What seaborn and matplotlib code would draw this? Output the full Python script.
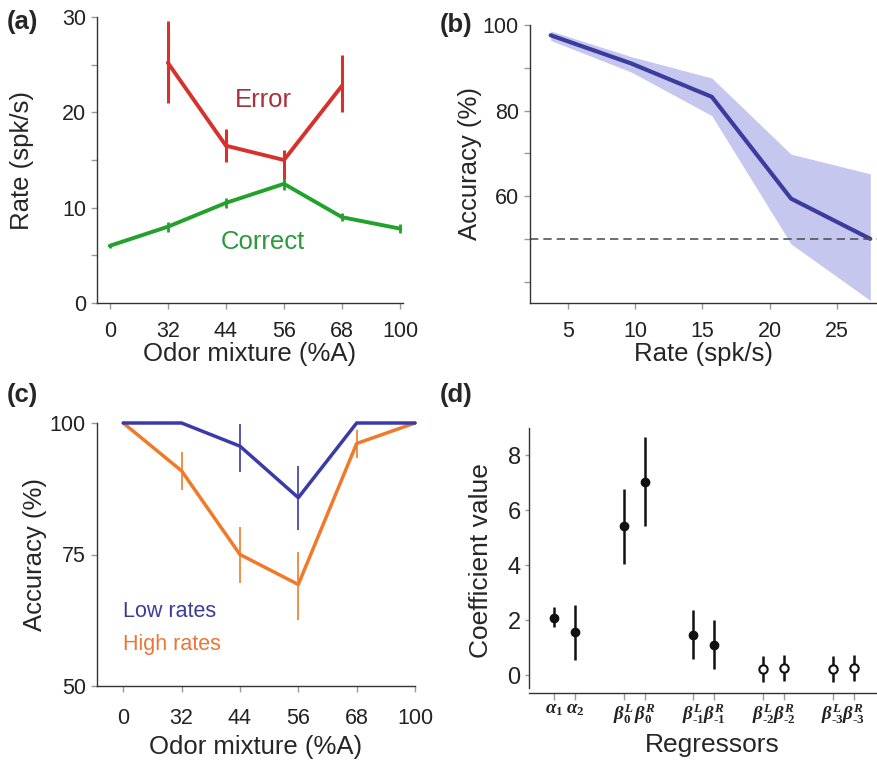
import numpy as np
import pandas as pd
import matplotlib
matplotlib.use("Agg")
import matplotlib.pyplot as plt
import seaborn as sns

# ---------------- data ----------------
# (a)
odor_labels = ["0", "32", "44", "56", "68", "100"]
correct_rate = [6.0, 8.0, 10.5, 12.5, 9.0, 7.8]
correct_lo = [5.8, 7.5, 10.0, 11.9, 8.6, 7.3]
correct_hi = [6.2, 8.5, 11.0, 13.1, 9.4, 8.3]
error_labels = ["32", "44", "56", "68"]
error_rate = [25.2, 16.5, 15.0, 22.8]
error_lo = [21.0, 14.8, 13.0, 20.0]
error_hi = [29.6, 18.2, 16.0, 26.0]

# (b)
rate_x = [3.7, 9.7, 15.7, 21.6, 27.5]
acc_mean = [97.6, 91.0, 83.2, 59.4, 50.0]
acc_lo = [96.4, 89.0, 78.8, 48.8, 35.6]
acc_hi = [98.6, 92.6, 87.6, 69.8, 65.2]
chance = 50

# (c)
low_acc = [100, 100, 95.6, 85.8, 100, 100]
low_lo = [100, 100, 90.7, 79.7, 100, 100]
low_hi = [100, 100, 99.8, 91.8, 100, 100]
high_acc = [100, 90.9, 75.0, 69.3, 96.1, 100]
high_lo = [100, 87.3, 69.5, 62.5, 93.3, 100]
high_hi = [100, 94.5, 80.3, 75.5, 98.7, 100]

# (d)
reg_labels = [r"$\alpha_1$", r"$\alpha_2$",
              r"$\beta_0^L$", r"$\beta_0^R$",
              r"$\beta_{\text{-}1}^L$", r"$\beta_{\text{-}1}^R$",
              r"$\beta_{\text{-}2}^L$", r"$\beta_{\text{-}2}^R$",
              r"$\beta_{\text{-}3}^L$", r"$\beta_{\text{-}3}^R$"]
reg_group = [0, 0, 1, 1, 2, 2, 3, 3, 4, 4]
reg_member = [0, 1, 0, 1, 0, 1, 0, 1, 0, 1]
coef = [2.08, 1.56, 5.42, 7.03, 1.47, 1.11, 0.22, 0.27, 0.22, 0.27]
coef_lo = [1.76, 0.55, 4.06, 5.42, 0.57, 0.24, -0.24, -0.22, -0.24, -0.22]
coef_hi = [2.48, 2.55, 6.79, 8.67, 2.36, 2.00, 0.69, 0.75, 0.69, 0.75]
significant = [True, True, True, True, True, True, False, False, False, False]

# ---------------- style ----------------
sns.set_theme(style="ticks")
plt.rcParams["font.family"] = ["Liberation Sans", "DejaVu Sans"]
plt.rcParams["mathtext.fontset"] = "custom"
plt.rcParams["mathtext.it"] = "Liberation Serif:italic:bold"
plt.rcParams["mathtext.rm"] = "Liberation Serif:bold"
plt.rcParams["mathtext.bf"] = "Liberation Serif:bold"
plt.rcParams["axes.edgecolor"] = "#333333"
plt.rcParams["axes.linewidth"] = 1.0
plt.rcParams["xtick.color"] = "#999999"
plt.rcParams["ytick.color"] = "#999999"
plt.rcParams["xtick.labelcolor"] = "#222222"
plt.rcParams["ytick.labelcolor"] = "#222222"

W, H = 877, 761
fig = plt.figure(figsize=(W / 100, H / 100), dpi=100)


def ax_px(left, top, right, bottom):
    return fig.add_axes([left / W, 1 - bottom / H, (right - left) / W, (bottom - top) / H])


TICK = 15.5
LAB = 18.5

# ---------------- (a) ----------------
ax = ax_px(97, 17, 403, 303)
xa = np.arange(len(odor_labels))
xe = np.array([odor_labels.index(l) for l in error_labels])
RED = "#d6322b"
GREEN = "#22a22c"
dfa = pd.DataFrame({"x": xa, "y": correct_rate})
sns.lineplot(data=dfa, x="x", y="y", ax=ax, color=GREEN, lw=2.8)
ax.vlines(xa, correct_lo, correct_hi, color=GREEN, lw=2.0, clip_on=False)
dfe = pd.DataFrame({"x": xe, "y": error_rate})
sns.lineplot(data=dfe, x="x", y="y", ax=ax, color=RED, lw=2.8)
ax.vlines(xe, error_lo, error_hi, color=RED, lw=2.2)
for l in ax.lines:
    l.set_clip_on(False)
ax.set_xlim(-0.22, 5.05)
ax.set_ylim(0, 30)
ax.set_xticks(xa)
ax.set_xticklabels(odor_labels)
ax.set_yticks(np.arange(0, 31, 5))
ax.set_yticklabels(["0", "", "10", "", "20", "", "30"])
ax.text(2.64, 21.3, "Error", color="#a8323c", fontsize=18.5, ha="center", va="center")
ax.text(2.64, 6.4, "Correct", color="#2a9a3a", fontsize=18.5, ha="center", va="center")
ax.set_xlabel("Odor mixture (%A)", fontsize=LAB)
ax.set_ylabel("Rate (spk/s)", fontsize=LAB)
ax.xaxis.set_label_coords(0.5, -0.135)
ax.yaxis.set_label_coords(-0.205, 0.5)
ax.tick_params(axis="x", length=4, width=1, labelsize=TICK, pad=9)
ax.tick_params(axis="y", length=4, width=1, labelsize=TICK, pad=4)
sns.despine(ax=ax)

# ---------------- (b) ----------------
ax = ax_px(530, 25, 877, 303)
ax.fill_between(rate_x, acc_lo, acc_hi, color="#c6c7ef", lw=0)
dfb = pd.DataFrame({"x": rate_x, "y": acc_mean})
sns.lineplot(data=dfb, x="x", y="y", ax=ax, color="#3b3d9e", lw=3.0)
ax.axhline(chance, color="#555555", lw=1.2, ls=(0, (5, 3)))
ax.set_xlim(2.16, 28.0)
ax.set_ylim(35, 100)
ax.set_xticks([5, 10, 15, 20, 25])
ax.set_yticks([40, 50, 60, 70, 80, 90, 100])
ax.set_yticklabels(["", "", "60", "", "80", "", "100"])
ax.set_xlabel("Rate (spk/s)", fontsize=LAB)
ax.set_ylabel("Accuracy (%)", fontsize=LAB)
ax.xaxis.set_label_coords(0.5, -0.14)
ax.yaxis.set_label_coords(-0.138, 0.5)
ax.tick_params(axis="x", length=4, width=1, labelsize=TICK, pad=9)
ax.tick_params(axis="y", length=4, width=1, labelsize=TICK, pad=4)
sns.despine(ax=ax)

# ---------------- (c) ----------------
ax = ax_px(97, 423, 415, 686)
BLUE = "#3a3aa8"
ORANGE = "#f07a2a"
dfc = pd.DataFrame({"x": np.concatenate([xa, xa]),
                    "y": low_acc + high_acc,
                    "g": ["Low"] * 6 + ["High"] * 6})
sns.lineplot(data=dfc, x="x", y="y", hue="g", palette={"Low": BLUE, "High": ORANGE},
             hue_order=["High", "Low"], ax=ax, lw=2.5, legend=False)
for l in ax.lines:
    l.set_clip_on(False)
ax.vlines(xa, high_lo, high_hi, color=ORANGE, lw=1.2)
ax.vlines(xa, low_lo, low_hi, color=BLUE, lw=1.2)
ax.set_xlim(-0.45, 5.0)
ax.set_ylim(50, 100)
ax.set_xticks(xa)
ax.set_xticklabels(odor_labels)
ax.set_yticks([50, 75, 100])
ax.text(0, 64.1, "Low rates", color="#3c3c9a", fontsize=15.5, ha="left", va="center")
ax.text(0, 57.8, "High rates", color="#ea763a", fontsize=15.5, ha="left", va="center")
ax.set_xlabel("Odor mixture (%A)", fontsize=LAB)
ax.set_ylabel("Accuracy (%)", fontsize=LAB)
ax.xaxis.set_label_coords(0.5, -0.185)
ax.yaxis.set_label_coords(-0.157, 0.5)
ax.tick_params(axis="x", length=4, width=1, labelsize=TICK, pad=12)
ax.tick_params(axis="y", length=4, width=1, labelsize=TICK, pad=4)
sns.despine(ax=ax)

# ---------------- (d) ----------------
ax = ax_px(529, 428, 877, 693)
GAP = 3.32
xd = np.array(reg_group) * GAP + np.array(reg_member)
ax.vlines(xd, coef_lo, coef_hi, color="#111111", lw=1.8)
dfd = pd.DataFrame({"x": xd, "y": coef, "sig": significant})
sns.scatterplot(data=dfd[dfd.sig], x="x", y="y", ax=ax, color="#111111", s=36,
                edgecolor="#111111", linewidth=1, zorder=3)
sns.scatterplot(data=dfd[~dfd.sig], x="x", y="y", ax=ax, color="white", s=36,
                edgecolor="#111111", linewidth=1.5, zorder=3)
ax.set_xlim(-1.19, 15.4)
ax.set_ylim(-0.65, 9.0)
ax.spines["left"].set_bounds(-0.47, 9.0)
ax.set_xticks(xd)
ax.set_xticklabels(reg_labels, fontsize=13.5)
ax.set_yticks([0, 2, 4, 6, 8])
ax.set_xlabel("Regressors", fontsize=19)
ax.set_ylabel("Coefficient value", fontsize=19)
ax.xaxis.set_label_coords(0.526, -0.15)
ax.yaxis.set_label_coords(-0.103, 0.5)
ax.tick_params(axis="x", length=5, width=1, pad=1)
ax.tick_params(axis="y", length=3, width=1, labelsize=17, pad=3)
sns.despine(ax=ax)

# panel labels
for lab, x, y in [("(a)", 7, 22), ("(b)", 440, 25), ("(c)", 7, 395), ("(d)", 440, 395)]:
    fig.text(x / W, 1 - y / H, lab, fontsize=18.5, fontweight="bold", ha="left", va="center")

fig.savefig("out.png", dpi=100)
